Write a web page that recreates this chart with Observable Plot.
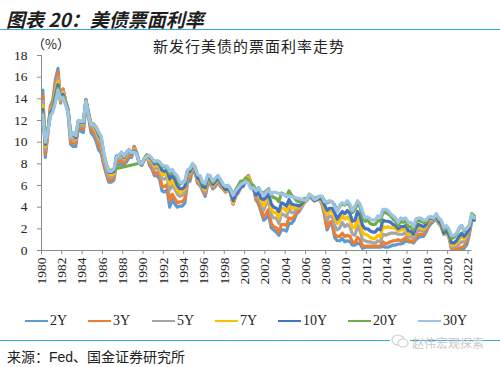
<!DOCTYPE html>
<html><head><meta charset="utf-8">
<script src="https://cdn.jsdelivr.net/npm/d3@7"></script>
<script src="https://cdn.jsdelivr.net/npm/@observablehq/plot@0.6"></script>
<style>
html,body{margin:0;padding:0;background:#fff;}
#wrap{position:relative;width:500px;height:367px;overflow:hidden;background:#fff;}
.t{position:absolute;white-space:nowrap;line-height:1;}
#title{left:6px;top:5px;font:italic bold 19px "Noto Sans CJK SC";color:#1e1e1e;}
.rule{position:absolute;left:0;width:500px;height:0;border-top:1.6px solid #35a9e1;}
#sub{left:153px;top:35px;font:15px "Noto Sans CJK SC";color:#222;letter-spacing:1px;}
#unit{left:32px;top:34px;font:13px "Noto Sans CJK SC";color:#222;}
#chart{position:absolute;left:0;top:0;}
.lg{position:absolute;top:313px;height:16px;font:14px "Liberation Serif";color:#222;display:flex;align-items:center;}
.lg i{display:inline-block;width:23px;height:0;border-top:2.2px solid;margin-right:2px;}
#src{left:7px;top:346px;font:14px "Liberation Sans","Noto Sans CJK SC";color:#222;}
#wm{left:412px;top:334px;font:12px "Noto Sans CJK SC";color:#c9c9c9;}
#wmi{position:absolute;left:390px;top:332px;}
</style></head>
<body><div id="wrap">
<div class="t" id="title">图表 20：美债票面利率</div>
<div class="rule" style="top:28.5px"></div>
<div class="t" id="sub">新发行美债的票面利率走势</div>
<div class="t" id="unit">（%）</div>
<div id="chart"></div>
<div id="legend"></div>
<div class="rule" style="top:340px"></div>
<div class="t" id="src">来源：Fed、国金证券研究所</div>
<svg id="wmi" width="20" height="18"><rect x="0" y="0" width="20" height="18" fill="#fff"/><ellipse cx="8" cy="8" rx="6" ry="5" fill="none" stroke="#cfcfcf" stroke-width="1.2"/><ellipse cx="13" cy="11" rx="5" ry="4" fill="#fff" stroke="#cfcfcf" stroke-width="1.2"/></svg>
<div class="t" id="wm">赵伟宏观探索</div>
</div>
<script>
// Quarterly new-issue coupon rates (%), Feb/May/Aug/Nov from Feb 1980 to Aug 2022
const y2 = [
14.8,8.6,10.8,13.3, 13.9,15.8,16.8,13.6, 14.9,13.7,12.6,9.8, 9.6,9.6,11.4,11.0, 10.9,13.3,12.4,10.9,
10.6,10.1,9.3,9.0, 7.9,7.1,6.3,6.3, 6.5,7.9,7.9,8.0, 7.9,8.2,8.6,8.6, 9.6,9.0,8.1,7.9,
8.4,8.8,7.9,7.5, 6.9,6.9,6.6,5.5, 5.4,5.6,4.0,4.7, 4.3,4.0,4.1,4.1, 4.4,6.3,6.4,7.4,
7.2,6.2,6.0,5.5, 5.0,6.1,6.2,5.7, 5.9,6.4,5.9,5.7, 5.4,5.6,5.3,4.3, 5.0,5.3,5.8,5.9,
6.6,6.9,6.3,5.9, 4.7,4.3,3.6,2.8, 3.0,3.3,2.1,1.9, 1.7,1.4,1.9,1.9, 1.8,2.5,2.5,2.8,
3.4,3.6,4.0,4.4, 4.7,5.0,4.9,4.7, 4.8,4.8,4.3,3.3, 1.9,2.4,2.4,1.2, 0.9,0.9,1.1,0.8,
0.9,0.8,0.5,0.5, 0.7,0.6,0.2,0.3, 0.3,0.3,0.3,0.3, 0.3,0.3,0.4,0.3, 0.3,0.4,0.5,0.5,
0.6,0.6,0.7,0.9, 0.8,0.8,0.7,1.0, 1.2,1.3,1.3,1.7, 2.2,2.5,2.7,2.9, 2.5,2.3,1.6,1.6,
1.3,0.2,0.1,0.2, 0.1,0.2,0.2,0.5, 1.4,2.7,3.1];
const y3 = [
14.3,8.9,10.9,13.2, 13.7,15.5,16.5,13.7, 14.9,13.8,12.8,10.0, 9.9,9.9,11.6,11.3, 11.2,13.6,12.6,11.2,
10.9,10.5,9.7,9.3, 8.1,7.3,6.5,6.5, 6.7,8.2,8.2,8.3, 8.0,8.5,8.8,8.7, 9.6,9.0,8.1,7.9,
8.4,8.8,8.0,7.7, 7.1,7.2,7.0,5.9, 5.9,6.1,4.6,5.2, 4.8,4.4,4.5,4.5, 4.8,6.6,6.7,7.6,
7.3,6.3,6.1,5.6, 5.2,6.3,6.3,5.8, 6.0,6.5,6.0,5.7, 5.4,5.6,5.3,4.3, 5.0,5.4,5.8,6.0,
6.7,6.9,6.2,5.8, 4.7,4.5,3.8,3.1, 3.4,3.8,2.5,2.2, 2.1,1.7,2.4,2.4, 2.3,3.0,2.9,3.1,
3.5,3.7,4.1,4.4, 4.7,5.0,4.8,4.6, 4.7,4.8,4.3,3.4, 2.1,2.6,2.7,1.5, 1.3,1.3,1.6,1.3,
1.4,1.3,0.8,0.7, 1.2,1.0,0.4,0.4, 0.4,0.4,0.4,0.4, 0.4,0.4,0.8,0.6, 0.7,0.8,0.9,0.9,
1.0,0.9,1.0,1.2, 0.9,0.9,0.8,1.2, 1.5,1.5,1.5,1.9, 2.4,2.7,2.8,2.9, 2.5,2.2,1.5,1.6,
1.3,0.2,0.2,0.2, 0.2,0.3,0.4,0.9, 1.7,2.9,3.0];
const y5 = [
13.8,9.3,11.0,12.9, 13.4,14.9,16.0,13.8, 14.7,13.8,12.9,10.3, 10.2,10.2,11.8,11.5, 11.5,13.8,12.7,11.5,
11.3,10.9,10.2,9.8, 8.4,7.6,6.8,6.8, 6.9,8.5,8.5,8.6, 8.3,8.8,9.0,8.8, 9.4,9.0,8.1,7.9,
8.4,8.8,8.2,8.0, 7.5,7.6,7.4,6.6, 6.6,6.8,5.6,6.0, 5.7,5.2,5.0,5.1, 5.4,6.9,7.0,7.8,
7.4,6.5,6.2,5.7, 5.4,6.5,6.5,5.9, 6.2,6.6,6.1,5.8, 5.5,5.6,5.3,4.3, 5.1,5.4,5.8,6.0,
6.7,6.8,6.1,5.7, 4.9,4.9,4.3,3.7, 4.3,4.5,3.3,3.0, 3.0,2.5,3.4,3.3, 3.1,3.8,3.5,3.5,
3.8,3.9,4.1,4.5, 4.6,5.0,4.8,4.6, 4.7,4.7,4.4,3.7, 2.8,3.2,3.1,2.3, 1.9,2.1,2.6,2.2,
2.4,2.2,1.5,1.4, 2.3,1.8,1.0,0.9, 0.8,0.8,0.7,0.7, 0.9,0.8,1.5,1.4, 1.5,1.6,1.6,1.6,
1.5,1.5,1.5,1.7, 1.2,1.3,1.1,1.6, 1.9,1.8,1.8,2.1, 2.6,2.8,2.8,3.0, 2.5,2.2,1.5,1.6,
1.3,0.3,0.3,0.4, 0.6,0.8,0.8,1.2, 1.9,3.0,2.9];
const y7 = [
13.4,9.6,11.0,12.8, 13.3,14.5,15.6,13.9, 14.6,13.7,13.0,10.5, 10.5,10.3,11.9,11.7, 11.7,13.9,12.7,11.6,
11.5,11.1,10.5,10.1, 8.7,7.8,7.1,7.0, 7.1,8.7,8.7,8.8, 8.5,9.0,9.2,8.9, 9.3,8.9,8.1,7.9,
8.5,8.8,8.4,8.3, 7.8,7.9,7.7,7.0, 7.0,7.1,6.1,6.5, 6.1,5.6,5.3,5.5, 5.7,7.1,7.2,7.9,
7.5,6.6,6.4,5.8, 5.6,6.6,6.6,6.0, 6.3,6.7,6.2,5.8, 5.5,5.6,5.3,4.4, 5.2,5.5,5.9,6.1,
6.7,6.7,6.1,5.8, 5.1,5.2,4.6,4.1, 4.7,4.9,3.8,3.5, 3.5,3.0,3.9,3.9, 3.6,4.3,3.9,3.9,
4.0,4.0,4.2,4.5, 4.6,5.0,4.8,4.6, 4.7,4.7,4.5,3.9, 3.3,3.6,3.6,3.0, 2.5,2.8,3.2,2.9,
3.1,2.8,2.1,2.1, 3.0,2.5,1.6,1.5, 1.4,1.2,1.1,1.1, 1.4,1.3,2.2,2.1, 2.2,2.1,2.1,2.0,
1.8,1.9,1.9,2.0, 1.5,1.6,1.4,2.0, 2.2,2.1,2.0,2.3, 2.8,2.9,2.9,3.1, 2.6,2.3,1.6,1.7,
1.4,0.5,0.5,0.7, 1.0,1.3,1.1,1.5, 2.0,3.0,2.8];
const y10 = [
13.0,9.8,11.1,12.7, 13.1,14.3,15.3,14.0, 14.4,13.6,13.0,10.6, 10.7,10.4,11.9,11.8, 11.8,13.9,12.7,11.6,
11.6,11.3,10.7,10.3, 8.9,7.9,7.2,7.2, 7.3,8.7,8.8,9.0, 8.6,9.1,9.3,8.9, 9.2,8.9,8.1,7.9,
8.5,8.8,8.6,8.4, 8.0,8.1,7.9,7.4, 7.3,7.4,6.6,6.9, 6.6,6.0,5.7,5.7, 5.9,7.2,7.3,7.9,
7.5,6.7,6.5,5.9, 5.8,6.7,6.6,6.1, 6.4,6.7,6.3,5.9, 5.6,5.7,5.4,4.6, 5.2,5.5,5.9,6.0,
6.6,6.4,5.8,5.8, 5.1,5.4,4.8,4.7, 4.9,5.2,4.3,4.0, 3.9,3.6,4.4,4.3, 4.1,4.7,4.3,4.2,
4.2,4.1,4.3,4.6, 4.6,5.1,4.9,4.6, 4.7,4.8,4.7,4.2, 3.7,3.9,3.9,3.5, 2.9,3.3,3.6,3.4,
3.7,3.4,2.7,2.8, 3.6,3.2,2.3,2.0, 2.0,1.8,1.7,1.7, 2.0,1.9,2.8,2.7, 2.7,2.6,2.4,2.3,
2.0,2.2,2.2,2.3, 1.8,1.8,1.5,2.1, 2.4,2.3,2.2,2.4, 2.9,3.0,2.9,3.2, 2.7,2.4,1.6,1.8,
1.5,0.7,0.7,0.9, 1.3,1.6,1.3,1.6, 2.0,3.0,2.8];
const y20 = [
12.7,10.0,11.1,12.5, 12.9,13.9,15.0,14.0, 14.2,13.5,12.9,10.6, 10.9,10.6,12.0,11.9, 12.0,13.9,12.6,11.7,
11.7,11.4,10.9,10.5, 9.0,8.0,7.4,7.4, 7.5,null,null,null, null,null,null,null, null,null,8.05,8.0,
8.5,8.8,8.7,8.5, 8.2,8.2,8.1,7.8, 7.7,7.7,7.1,7.3, 7.0,6.7,6.1,6.3, 6.4,7.4,7.5,8.0,
7.7,7.0,6.8,6.2, 6.1,6.9,6.8,6.3, 6.6,6.9,6.5,6.1, 5.9,6.0,5.7,5.1, 5.6,6.0,6.4,6.4,
6.7,6.5,6.0,6.0, 5.6,5.8,5.4,5.3, 5.5,5.7,5.1,4.9, 4.8,4.5,5.3,5.2, 5.0,5.5,5.1,4.9,
4.6,4.5,4.5,4.8, 4.7,5.2,5.0,4.8, 4.9,5.0,5.0,4.6, 4.4,4.5,4.5,4.2, 3.6,4.1,4.3,4.2,
4.4,4.1,3.5,3.8, 4.4,4.0,3.1,2.7, 2.8,2.5,2.4,2.4, 2.8,2.7,3.5,3.5, 3.4,3.2,2.9,2.7,
2.3,2.7,2.6,2.7, 2.2,2.2,1.9,2.6, 2.8,2.7,2.6,2.6, 3.0,3.1,3.0,3.3, 2.9,2.7,1.9,2.1,
1.8,1.1,1.2,1.5, 2.0,2.3,1.8,2.0, 2.3,3.4,3.2];
const y30 = [
12.5,10.0,11.0,12.4, 12.8,13.7,14.8,14.0, 14.1,13.4,12.8,10.5, 10.9,10.6,12.0,11.9, 11.9,13.8,12.5,11.6,
11.6,11.4,10.9,10.5, 9.1,7.9,7.3,7.3, 7.5,8.6,8.8,9.1, 8.7,9.1,9.3,9.0, 9.1,8.9,8.1,8.0,
8.5,8.7,8.8,8.5, 8.2,8.3,8.2,7.9, 7.8,7.8,7.3,7.5, 7.1,6.9,6.3,6.2, 6.4,7.4,7.6,8.0,
7.6,7.0,6.9,6.3, 6.2,7.0,6.9,6.4, 6.7,6.9,6.6,6.1, 5.9,6.0,5.6,5.1, 5.5,5.8,6.1,6.2,
6.4,6.2,5.7,5.8, 5.5,5.8,5.4,5.1, 5.4,5.6,5.2,5.4, null,null,null,null, null,null,null,null,
null,null,null,null, 4.6,5.2,5.0,4.7, 4.8,5.0,5.0,4.5, 4.5,4.6,4.5,4.0, 3.6,4.2,4.4,4.3,
4.6,4.3,3.7,4.1, 4.6,4.3,3.6,3.0, 3.1,2.9,2.8,2.8, 3.2,3.1,3.8,3.8, 3.7,3.4,3.2,3.0,
2.6,3.0,2.9,3.0, 2.6,2.6,2.2,2.9, 3.0,3.0,2.8,2.8, 3.1,3.1,3.0,3.4, 3.0,2.8,2.1,2.3,
2.0,1.4,1.4,1.6, 2.1,2.3,1.9,2.0, 2.3,3.3,3.0];

const seriesNames = ["2Y","3Y","5Y","7Y","10Y","20Y","30Y"];
const seriesColors = ["#5B9BD5","#ED7D31","#A5A5A5","#FFC000","#4472C4","#70AD47","#9DC3E6"];
const seriesValues = [y2,y3,y5,y7,y10,y20,y30];
const xTicks = [1980,1982,1984,1986,1988,1990,1992,1994,1996,1998,2000,2002,2004,2006,2008,2010,2012,2014,2016,2018,2020,2022];
const yTicks = [0,2,4,6,8,10,12,14,16,18];

// quarterly time grid (mid-Feb, mid-May, mid-Aug, mid-Nov)
const dates = d3.range(y2.length).map(i => 1980.125 + i * 0.25);

const lineMarks = seriesValues.map((vals, k) =>
  Plot.lineY(
    dates.map((t, i) => ({t, v: vals[i]})).filter(d => d.v != null),
    {x: "t", y: "v", stroke: seriesColors[k], strokeWidth: 3.2, strokeLinejoin: "round", strokeLinecap: "round"}
  )
);

const chart = Plot.plot({
  width: 500, height: 300,
  marginLeft: 41, marginRight: 28.5, marginTop: 55, marginBottom: 50,
  style: {fontFamily: "Liberation Serif", fontSize: "13px", color: "#222", background: "transparent"},
  x: {domain: [1980, 2022.4]},
  y: {domain: [0, 18]},
  marks: [
    Plot.axisY({ticks: yTicks, tickSize: 4, tickPadding: 10, stroke: "#8c8c8c", fill: "#222", fontSize: 13.5, label: null}),
    Plot.axisX({ticks: xTicks, tickFormat: d => String(d), tickRotate: -90, tickSize: 4, tickPadding: 3, stroke: "#8c8c8c", fill: "#222", fontSize: 13.5, label: null}),
    ...lineMarks,
    Plot.ruleY([0], {stroke: "#8c8c8c"}),
    Plot.ruleX([1980], {stroke: "#8c8c8c"})
  ]
});
document.getElementById("chart").appendChild(chart);

// legend
const lgX = [25, 88, 152, 215, 278, 348, 418];
const legend = document.getElementById("legend");
seriesNames.forEach((n, k) => {
  const d = document.createElement("div");
  d.className = "lg";
  d.style.left = lgX[k] + "px";
  d.innerHTML = `<i style="border-color:${seriesColors[k]}"></i>${n}`;
  legend.appendChild(d);
});
</script>
</body></html>
